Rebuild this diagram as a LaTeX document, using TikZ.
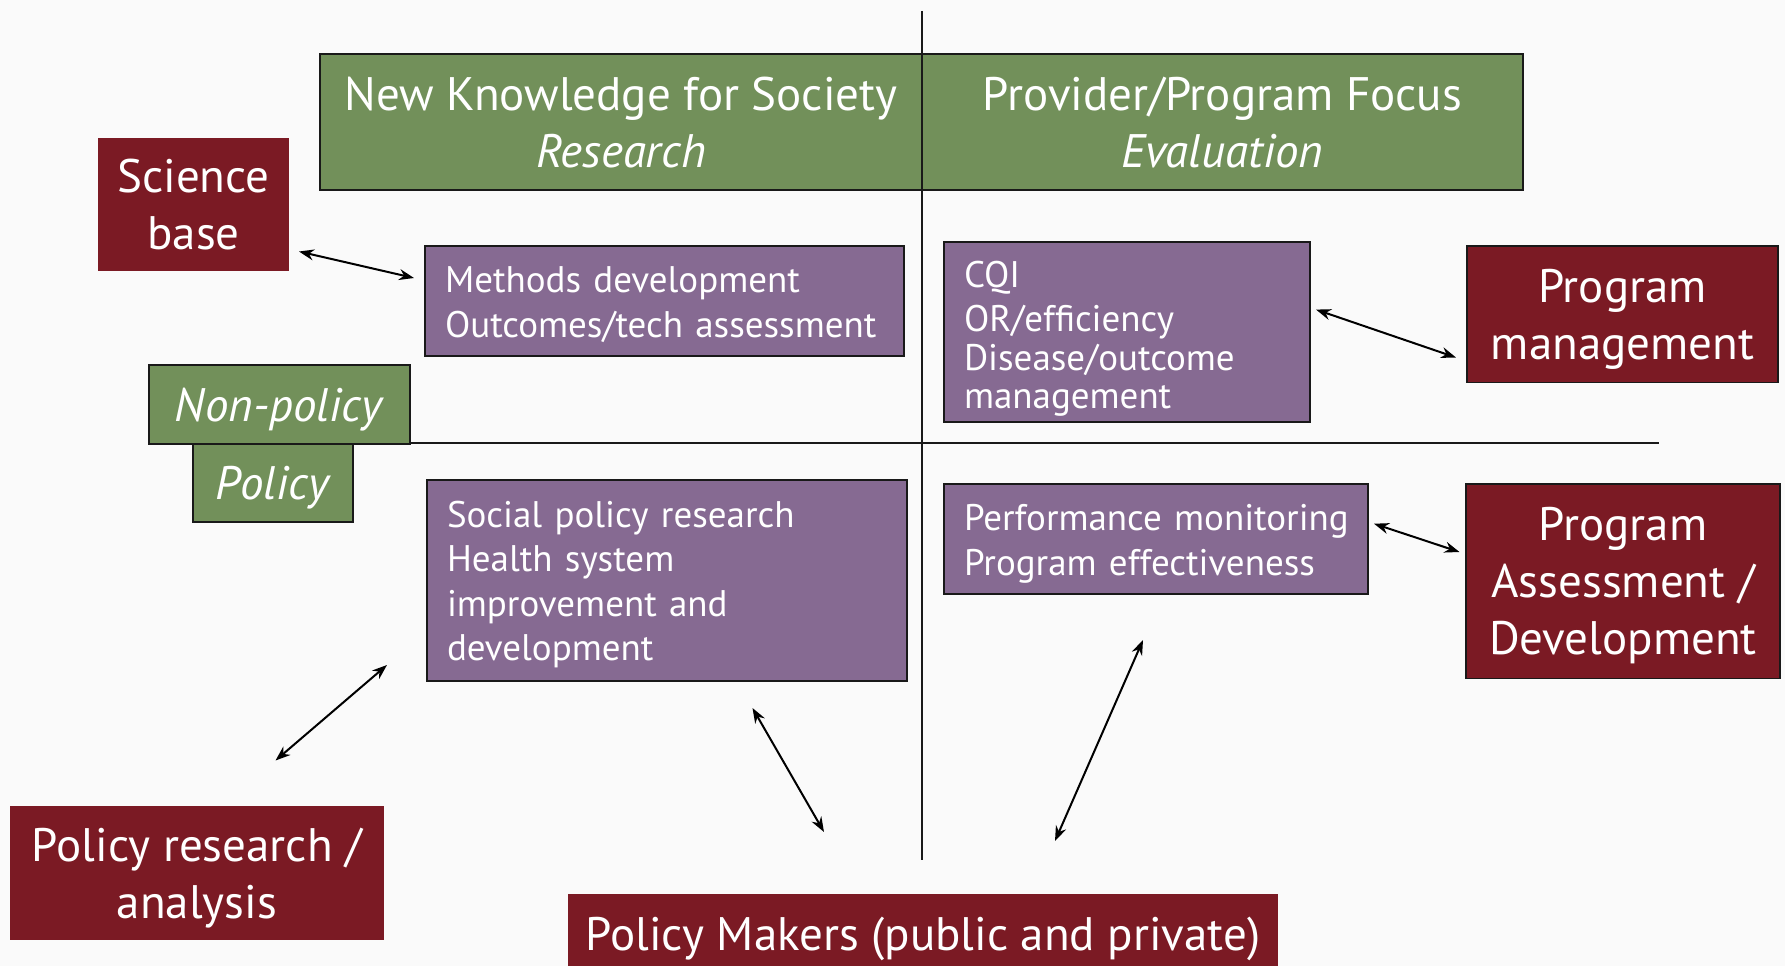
\documentclass[tikz,border=0pt]{standalone}
\usepackage{fontspec}
\setmainfont{PT Sans}
\usetikzlibrary{arrows.meta}
\definecolor{bg}{RGB}{250,250,250}
\definecolor{hgreen}{RGB}{114,144,90}
\definecolor{dred}{RGB}{123,26,36}
\definecolor{purp}{RGB}{134,106,146}
\definecolor{edge}{RGB}{25,25,25}
\newcommand{\toppad}[1]{\rule{0pt}{#1}}
\begin{document}
\begin{tikzpicture}[x=1pt,y=-1pt,
  greenbox/.style={draw=edge, line width=2pt, fill=hgreen, text=white, inner sep=0pt, align=center, text depth=0pt, font=\fontsize{47}{57}\selectfont},
  redbox/.style={fill=dred, text=white, inner sep=0pt, align=center, text depth=0pt, font=\fontsize{47}{57}\selectfont},
  redframed/.style={redbox, draw=edge, line width=1.5pt},
  purplebox/.style={draw=edge, line width=2pt, fill=purp, text=white, inner ysep=0pt, inner xsep=20pt, align=left, font=\fontsize{37}{44.5}\selectfont},
  axis/.style={line width=2pt, draw=edge},
  arr/.style={{Stealth[length=15pt,width=11pt]}-{Stealth[length=15pt,width=11pt]}, line width=2pt}
]
\fill[bg] (0,0) rectangle (1785,966);
\useasboundingbox (0,0) rectangle (1785,966);

% axes
\coordinate (vtop) at (922,11);
\coordinate (vbot) at (922,860);
\coordinate (hleft) at (410,443);
\coordinate (hright) at (1659,443);
\draw[axis] (vtop) -- (vbot);
\draw[axis] (hleft) -- (hright);

% header boxes
\node[greenbox, minimum width=602pt, minimum height=136.5pt] (hl) at (621,121.8)
  {New Knowledge for Society\\\textit{Research}};
\node[greenbox, minimum width=601pt, minimum height=136.5pt] (hr) at (1222.5,121.8)
  {Provider/Program Focus\\\textit{Evaluation}};

% side labels
\node[greenbox, minimum width=159.5pt, minimum height=78.5pt] (pol) at (273,483) {\textit{Policy}};
\node[greenbox, minimum width=261pt, minimum height=79pt] (nonp) at (279.5,404.5) {\textit{Non-policy}};

% red boxes
\node[redbox, minimum width=191pt, minimum height=133pt] (sci) at (193.5,204.5) {Science\\base};
\node[redframed, minimum width=311pt, minimum height=136.5pt] (pm) at (1622.5,314) {Program\\management};
\node[redframed, minimum width=314pt, minimum height=194.5pt] (pa) at (1623,581) {Program\\Assessment /\\Development};
\node[redbox, minimum width=374pt, minimum height=134pt] (prs) at (197,873) {Policy research /\\analysis};
\node[redbox, minimum width=710pt, minimum height=79pt] (pmk) at (923,933.5) {Policy Makers (public and private)};

% purple boxes
\node[purplebox, text width=439pt, minimum height=110pt] (meth) at (664.5,301)
  {\toppad{33.6pt}\mbox{Methods development}\\\mbox{Outcomes/tech assessment}};
\node[purplebox, text width=326pt, minimum height=179.5pt, font=\fontsize{37}{38.5}\selectfont] (cqi) at (1127,332)
  {\toppad{40.6pt}CQI\\[5.5pt]OR/efficiency\\Disease/outcome\\management};
\node[purplebox, text width=440pt, minimum height=201pt] (soc) at (667,580.5)
  {\toppad{34.6pt}\mbox{Social policy research}\\Health system\\improvement and\\development};
\node[purplebox, text width=384pt, minimum height=110pt] (perf) at (1156,539)
  {\toppad{35.6pt}\mbox{Performance monitoring}\\\mbox{Program effectiveness}};

% arrow ends
\coordinate (a1s) at (299,251.5);  \coordinate (a1e) at (414,278);
\coordinate (a2s) at (1316,309.6); \coordinate (a2e) at (1456,357.5);
\coordinate (a3s) at (1374,523.7); \coordinate (a3e) at (1459.5,552);
\coordinate (a4s) at (275.5,760.5); \coordinate (a4e) at (387,665);
\coordinate (a5s) at (752.5,708);  \coordinate (a5e) at (824,832);
\coordinate (a6s) at (1143,640);   \coordinate (a6e) at (1055,841);

\draw[arr] (a1s) -- (a1e);
\draw[arr] (a2s) -- (a2e);
\draw[arr] (a3s) -- (a3e);
\draw[arr] (a4s) -- (a4e);
\draw[arr] (a5s) -- (a5e);
\draw[arr] (a6s) -- (a6e);
\end{tikzpicture}
\end{document}
